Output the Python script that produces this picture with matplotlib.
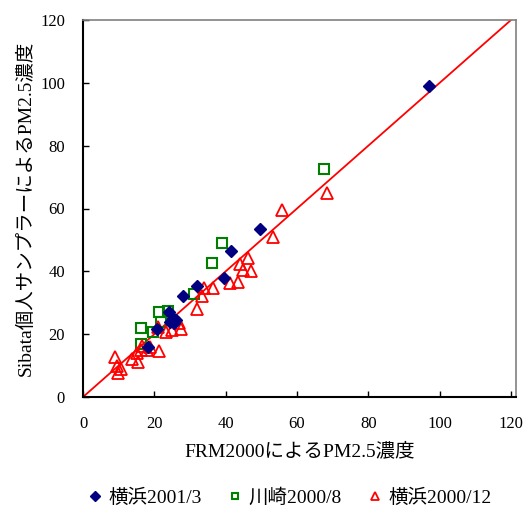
import numpy as np
import matplotlib.pyplot as plt

plt.rcParams['font.family'] = ['Liberation Serif', 'Noto Sans CJK JP']

# 横浜2001/3
yoko01_x = [97, 49.5, 41.5, 39.5, 32, 28, 24, 25.2, 26, 25.5, 20.7, 18.2, 24.5]
yoko01_y = [99, 53.5, 46.5, 38, 35.4, 32, 27, 25, 24.5, 23.4, 21.5, 15.8, 24]

# 川崎2000/8
kawa_x = [67.5, 39, 36.2, 31.1, 21.2, 23.8, 21.8, 16.3, 19.6, 16.2]
kawa_y = [72.5, 49, 42.5, 32.9, 27, 27.3, 23.8, 22.1, 20.6, 17]

# 横浜2000/12
yoko00_x = [68.5, 55.8, 53.2, 46.2, 44, 44.8, 47, 43.4, 41.3, 36.4, 33.8, 33.3, 32, 27,
            27.5, 25, 23.2, 21, 21.3, 18.8, 16.5, 16.2, 15.1, 13.7, 15.4, 9, 9.5, 10.6, 9.8, 17.9]
yoko00_y = [65, 59.5, 50.8, 44.3, 42.4, 40.5, 40, 36.5, 36.2, 34.8, 34.6, 32.3, 28, 23.4,
            21.8, 21.2, 20.6, 22.2, 14.5, 15.8, 16.2, 14.9, 13.9, 12.1, 11.1, 12.7, 10, 8.9, 7.6, 15]

ticks = [0, 20, 40, 60, 80, 100, 120]

fig = plt.figure(figsize=(5.29, 5.08), dpi=100)
ax = fig.add_axes([83/529, 1-397/508, (516-83)/529, (397-20)/508])

ax.plot([0, 120], [0, 120], color='#ff0000', lw=1.3, zorder=1)

ax.plot(yoko01_x, yoko01_y, 'D', color='#000080', ms=6.5, mec='#000080',
        ls='none', label='横浜2001/3', zorder=3)
ax.plot(kawa_x, kawa_y, 's', mfc='none', mec='#008000', mew=1.5, ms=6.5,
        ls='none', label='川崎2000/8', zorder=2)
ax.plot(yoko00_x, yoko00_y, '^', mfc='none', mec='#ff0000', mew=1.3, ms=8.5,
        ls='none', label='横浜2000/12', zorder=2)

ax.set_xlim(0, 121.4)
ax.set_ylim(0, 120)
ax.set_xticks(ticks)
ax.set_yticks(ticks)
ax.tick_params(direction='in', length=4, width=1, labelsize=12)
ax.tick_params(axis='x', pad=14)
ax.tick_params(axis='y', pad=13)
for s in ['left', 'bottom']:
    ax.spines[s].set_color('black')
    ax.spines[s].set_linewidth(1.5)
for s in ['top', 'right']:
    ax.spines[s].set_color('#808080')
    ax.spines[s].set_linewidth(1.2)

ax.set_xlabel('FRM2000によるPM2.5濃度', fontsize=14, labelpad=7)
ax.set_ylabel('Sibata個人サンプラーによるPM2.5濃度', fontsize=14, labelpad=4)

fig.legend(loc='center', bbox_to_anchor=(0.545, 1-498/508), ncol=3, frameon=False,
           fontsize=14, handletextpad=0.2, columnspacing=1.2, handlelength=1.0,
           markerscale=0.75)

fig.savefig('out.png', dpi=100)
